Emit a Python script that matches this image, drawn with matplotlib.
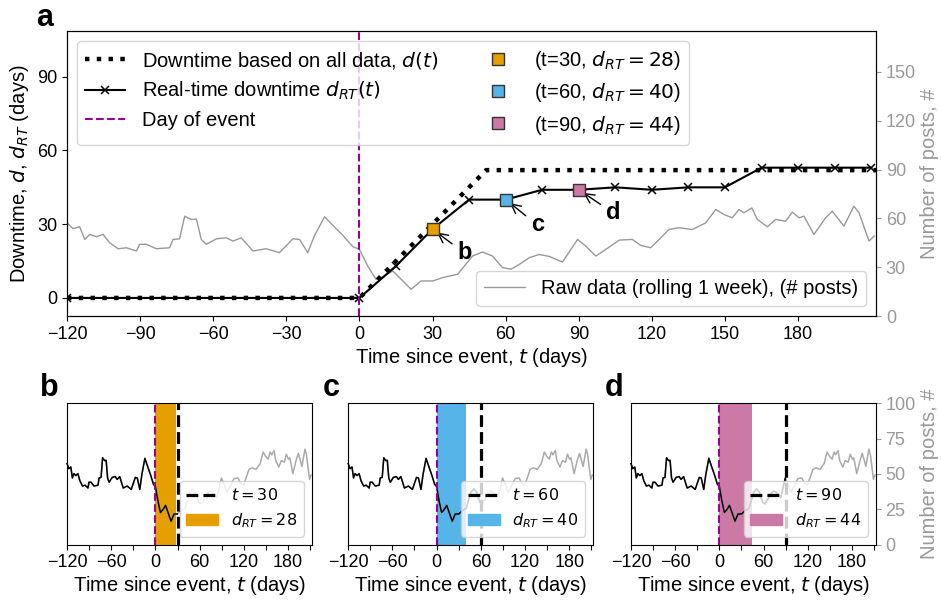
import matplotlib
matplotlib.use("Agg")
import matplotlib.pyplot as plt
from matplotlib.lines import Line2D
from matplotlib.patches import Patch, Rectangle

plt.rcParams['font.family'] = ['Liberation Sans', 'DejaVu Sans']
plt.rcParams['font.size'] = 14.5
plt.rcParams['mathtext.fontset'] = 'dejavusans'

FS = 14.5
TFS = 13

# ---------------- data ----------------
# downtime based on all data
d_all_t = [-120, 0, 52, 212]
d_all_v = [0, 0, 52, 52]

# real-time downtime
rt_t = [-120, 0, 15, 30, 45, 60, 75, 90,
        105, 120, 135, 150, 165, 180, 195, 210]
rt_v = [0, 0, 13, 28, 40, 40, 44, 44,
        45, 44, 45, 45, 53, 53, 53, 53]

# highlighted points
hl_t = [30, 60, 90]
hl_d = [28, 40, 44]
hl_colors = ['#E69F00', '#56B4E9', '#CC79A7']
hl_letters = ['b', 'c', 'd']

# raw data (rolling 1 week, # posts)
raw_t = [-120, -117.5, -114.8, -112.7, -110.7, -107.9, -105.2, -102.5, -99, -95.6,
         -91.5, -90.2, -87.4, -83.3, -77.9, -76.5, -73.8, -71.7, -69, -66.9,
         -64.9, -62.8, -58.7, -54.6, -51.9, -48.5, -43.7, -38.3, -32.8, -27.3,
         -24.6, -21.2, -18.4, -14.3, -10.9, -6.8, -2.7, 0, 3.4, 6.8,
         10.2, 13.7, 17.8, 21.2, 25.3, 30.1, 34.2, 40.3, 46.4, 50.5,
         54.6, 58.7, 62.2, 65.6, 69.7, 73.8, 77.9, 83.3, 89.5, 92.9,
         97, 101.1, 106.6, 112, 115.4, 119.5, 123, 127, 131.1, 136.6,
         142.1, 146.2, 149.6, 153, 155.7, 157.8, 161, 163.3, 167.4, 170.8,
         174.9, 177.6, 180.4, 182.4, 186.5, 191.3, 194, 198.8, 202.9, 205,
         209.1, 211.2]
raw_v = [57.3, 53.7, 54.9, 47.1, 50.2, 48.8, 50.2, 45.1, 41.4, 42.0,
         40.0, 44.1, 44.1, 41.4, 42.0, 47.1, 47.5, 61.4, 59.4, 59.6,
         47.1, 44.1, 47.5, 48.1, 46.1, 48.1, 40.0, 41.4, 39.0, 47.5,
         47.1, 39.0, 49.6, 61.0, 55.7, 49.6, 42.7, 41.0, 30.8, 22.6,
         24.7, 27.7, 21.6, 16.5, 21.6, 21.6, 23.7, 25.7, 36.9, 39.4,
         36.9, 29.8, 28.8, 31.8, 35.9, 37.9, 36.7, 33.2, 47.1, 43.0,
         36.9, 41.0, 46.7, 47.1, 43.5, 42.0, 47.1, 53.2, 54.3, 53.2,
         57.3, 65.5, 62.4, 60.4, 65.5, 63.5, 66.5, 59.4, 54.9, 59.4,
         58.3, 63.9, 60.4, 61.4, 50.2, 60.4, 64.5, 55.3, 67.5, 63.5,
         46.1, 49.2]

xticks_main = [-120, -90, -60, -30, 0, 30, 60, 90, 120, 150, 180]
xticks_small = [-120, -90, -60, -30, 0, 30, 60, 90, 120, 150, 180, 210]
GRAY = '#999999'
PURPLE = '#990099'
XLIM = (-120, 212)

fig = plt.figure(figsize=(9.41, 6.01), dpi=100)

# ---------------- panel a ----------------
ax = fig.add_axes([0.0712, 0.474, 0.8598, 0.474])
ax2 = ax.twinx()
ax.set_zorder(ax2.get_zorder() + 1)
ax.patch.set_visible(False)

ax2.plot(raw_t, raw_v, color=GRAY, lw=1, label='Raw data (rolling 1 week), (# posts)')
ax2.set_ylim(0, 175)
ax2.set_yticks([0, 30, 60, 90, 120, 150])
ax2.tick_params(axis='y', colors=GRAY, labelsize=TFS)
ax2.set_ylabel('Number of posts, #', color=GRAY, fontsize=FS, labelpad=3)
ax2.legend(loc='lower right', fontsize=FS, framealpha=0.8)

l1, = ax.plot(d_all_t, d_all_v, ls=':', lw=3.2, color='k',
              label='Downtime based on all data, $d(t)$')
l2, = ax.plot(rt_t, rt_v, '-', color='k', lw=1.5, marker='x', ms=6, mew=1.1,
              label='Real-time downtime $d_{RT}(t)$')
l3 = ax.axvline(0, color=PURPLE, ls='--', lw=1.5, label='Day of event')
sq_handles = []
for t, d, c in zip(hl_t, hl_d, hl_colors):
    h, = ax.plot([t], [d], 's', color=c, ms=8, mec='#333333', mew=1,
                 label=f'(t={t}, $d_{{RT}} = {d}$)', zorder=5)
    sq_handles.append(h)
ann_pos = [(43, 18.3), (73, 29.7), (104, 34.7)]
for t, d, letter, pos in zip(hl_t, hl_d, hl_letters, ann_pos):
    ax.annotate(letter, xy=(t, d), xytext=pos, fontsize=17, fontweight='bold',
                ha='center', va='center',
                arrowprops=dict(arrowstyle='->', color='k', lw=1,
                                shrinkA=2, shrinkB=4))
ax.set_xlim(*XLIM)
ax.set_ylim(-7.4, 108.5)
ax.set_yticks([0, 30, 60, 90])
ax.set_xticks(xticks_main)
ax.tick_params(labelsize=TFS)
ax.set_xlabel('Time since event, $t$ (days)', fontsize=FS, labelpad=2)
ax.set_ylabel('Downtime, $d$, $d_{RT}$ (days)', fontsize=FS)
ax.legend(handles=[l1, l2, l3] + sq_handles, ncol=2, loc='upper left',
          fontsize=FS, framealpha=0.8, labelspacing=0.45)
fig.text(0.038, 0.97, 'a', fontsize=22, fontweight='bold', ha='left', va='center')

# ---------------- panels b, c, d ----------------
lefts = [0.0712, 0.370, 0.6705]
letter_x = [0.043, 0.343, 0.643]
for i, (t, d, c, letter) in enumerate(zip(hl_t, hl_d, hl_colors, hl_letters)):
    a = fig.add_axes([lefts[i], 0.094, 0.260, 0.235])
    a.plot(raw_t, raw_v, color='#aaaaaa', lw=1.1)
    blk, = a.plot(raw_t, raw_v, color='k', lw=1.1)
    clip = Rectangle((-500, -500), t + 500, 1000, transform=a.transData)
    blk.set_clip_path(clip)
    a.axvspan(0, d, color=c, lw=0)
    a.axvline(0, color=PURPLE, ls='--', lw=1.5)
    a.axvline(t, color='k', ls='--', lw=2.3)
    a.set_xlim(*XLIM)
    a.set_ylim(0, 100)
    a.set_xticks(xticks_small)
    a.set_xticklabels([str(v).replace('-', '\u2212') if v % 60 == 0 else ''
                       for v in xticks_small])
    a.tick_params(labelsize=TFS)
    a.set_xlabel('Time since event, $t$ (days)', fontsize=FS, labelpad=2)
    if i == 2:
        a.yaxis.tick_right()
        a.yaxis.set_label_position('right')
        a.set_yticks([0, 25, 50, 75, 100])
        a.tick_params(axis='y', colors=GRAY, labelsize=TFS)
        a.set_ylabel('Number of posts, #', color=GRAY, fontsize=FS, labelpad=3)
    else:
        a.set_yticks([])
    hs = [Line2D([], [], color='k', ls='--', lw=2.3),
          Patch(color=c)]
    a.legend(hs, [f'$t = {t}$', f'$d_{{RT}} = {d}$'], loc='lower right',
             fontsize=11.5, framealpha=0.8)
    fig.text(letter_x[i], 0.355, letter, fontsize=22, fontweight='bold',
             ha='left', va='center')

fig.savefig('out.png', dpi=100)
